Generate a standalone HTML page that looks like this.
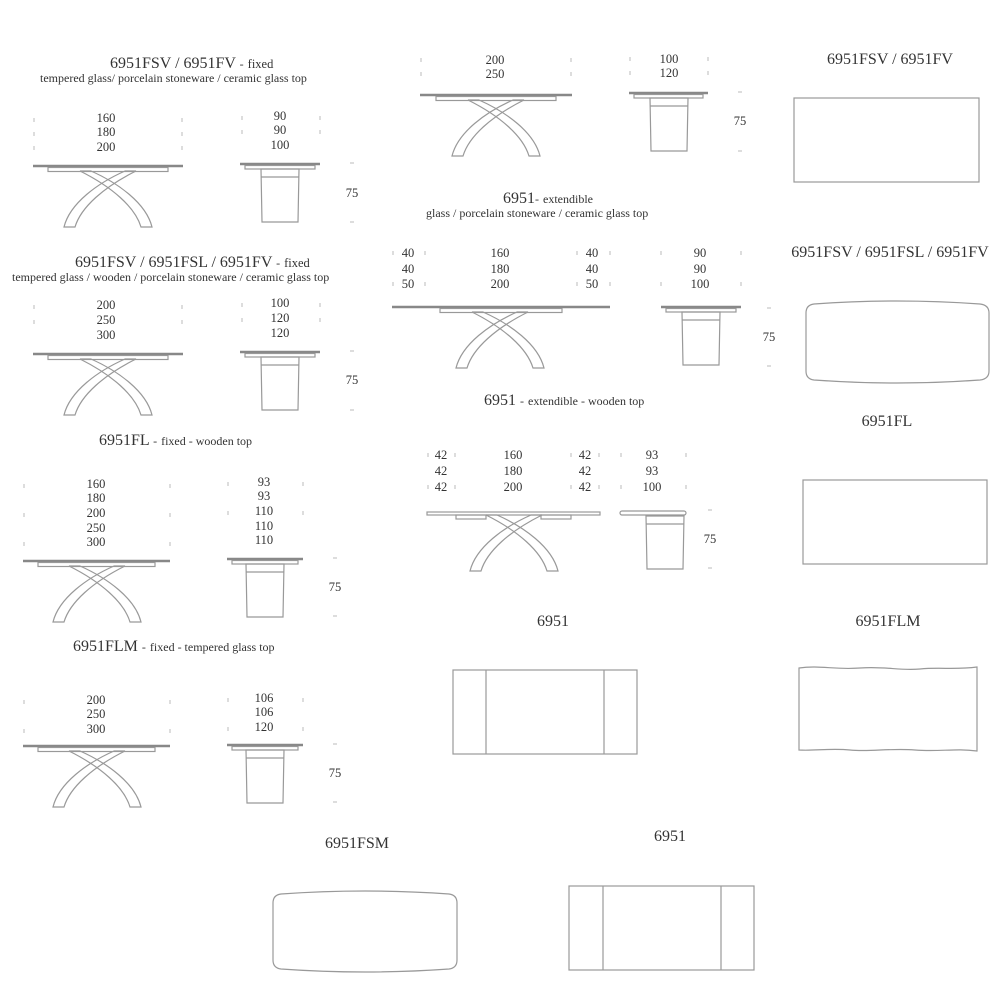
<!DOCTYPE html>
<html><head><meta charset="utf-8"><style>
html,body{margin:0;padding:0;background:#fff}
svg{display:block}
text{font-family:"Liberation Serif",serif;fill:#333}
.t{font-size:16px}
.s{font-size:12px}
.d{font-size:12.5px;text-anchor:middle}
.o{fill:none;stroke:#999;stroke-width:1.2}
.top{stroke:#888;stroke-width:2.5}
.tk{stroke:#bbb;stroke-width:1}
</style></head><body>
<svg width="1000" height="1000" viewBox="0 0 1000 1000" xmlns="http://www.w3.org/2000/svg">
<defs>
<g id="legs">
<path class="o" d="M -28 0 L -17 0 C 10 12 38 32 44 56 L 33 56 C 27 36 4 16 -28 0 Z"/>
<path class="o" d="M 28 0 L 17 0 C -10 12 -38 32 -44 56 L -33 56 C -27 36 -4 16 28 0 Z"/>
</g>
<g id="ped">
<path class="o" d="M 21 5 L 59 5 L 58 58 L 22 58 Z"/>
<line class="o" x1="21" y1="13" x2="59" y2="13"/>
</g>
</defs>

<!-- Section 1 -->
<text class="t" x="110" y="68">6951FSV / 6951FV <tspan class="s">-</tspan> <tspan style="font-size:12.5px">fixed</tspan></text>
<text class="s" x="40" y="82">tempered glass/ porcelain stoneware / ceramic glass top</text>
<text class="d" x="106" y="122">160</text><text class="d" x="106" y="136">180</text><text class="d" x="106" y="151">200</text>
<text class="d" x="280" y="120">90</text><text class="d" x="280" y="134">90</text><text class="d" x="280" y="149">100</text>
<line class="top" x1="33" y1="166" x2="183" y2="166"/>
<rect class="o" x="48" y="167.5" width="120" height="4"/>
<use href="#legs" x="108" y="171"/>
<line class="top" x1="240" y1="164" x2="320" y2="164"/>
<rect class="o" x="245" y="165.5" width="70" height="3.5"/>
<use href="#ped" x="240" y="164"/>
<text class="d" x="352" y="197">75</text>
<line class="tk" x1="350" y1="163" x2="354" y2="163"/><line class="tk" x1="350" y1="222" x2="354" y2="222"/>

<!-- Section 2 -->
<text class="t" x="75" y="267">6951FSV / 6951FSL / 6951FV <tspan class="s">-</tspan> <tspan style="font-size:12.5px">fixed</tspan></text>
<text class="s" x="12" y="281">tempered glass / wooden / porcelain stoneware / ceramic glass top</text>
<text class="d" x="106" y="309">200</text><text class="d" x="106" y="324">250</text><text class="d" x="106" y="339">300</text>
<text class="d" x="280" y="307">100</text><text class="d" x="280" y="322">120</text><text class="d" x="280" y="337">120</text>
<line class="top" x1="33" y1="354" x2="183" y2="354"/>
<rect class="o" x="48" y="355.5" width="120" height="4"/>
<use href="#legs" x="108" y="359"/>
<line class="top" x1="240" y1="352" x2="320" y2="352"/>
<rect class="o" x="245" y="353.5" width="70" height="3.5"/>
<use href="#ped" x="240" y="352"/>
<text class="d" x="352" y="384">75</text>
<line class="tk" x1="350" y1="351" x2="354" y2="351"/><line class="tk" x1="350" y1="410" x2="354" y2="410"/>

<!-- Section 3 -->
<text class="t" x="99" y="445">6951FL <tspan class="s">-</tspan> <tspan style="font-size:12px">fixed - wooden top</tspan></text>
<text class="d" x="96" y="488">160</text><text class="d" x="96" y="502">180</text><text class="d" x="96" y="517">200</text><text class="d" x="96" y="532">250</text><text class="d" x="96" y="546">300</text>
<text class="d" x="264" y="486">93</text><text class="d" x="264" y="500">93</text><text class="d" x="264" y="515">110</text><text class="d" x="264" y="530">110</text><text class="d" x="264" y="544">110</text>
<line class="top" x1="23" y1="561" x2="170" y2="561"/>
<rect class="o" x="38" y="562.5" width="117" height="4"/>
<use href="#legs" x="97" y="566"/>
<line class="top" x1="227" y1="559" x2="303" y2="559"/>
<rect class="o" x="232" y="560.5" width="66" height="3.5"/>
<use href="#ped" x="225" y="559"/>
<text class="d" x="335" y="591">75</text>
<line class="tk" x1="333" y1="558" x2="337" y2="558"/><line class="tk" x1="333" y1="616" x2="337" y2="616"/>

<!-- Section 4 -->
<text class="t" x="73" y="651">6951FLM <tspan class="s">-</tspan> <tspan style="font-size:12px">fixed - tempered glass top</tspan></text>
<text class="d" x="96" y="704">200</text><text class="d" x="96" y="718">250</text><text class="d" x="96" y="733">300</text>
<text class="d" x="264" y="702">106</text><text class="d" x="264" y="716">106</text><text class="d" x="264" y="731">120</text>
<line class="top" x1="23" y1="746" x2="170" y2="746"/>
<rect class="o" x="38" y="747.5" width="117" height="4"/>
<use href="#legs" x="97" y="751"/>
<line class="top" x1="227" y1="745" x2="303" y2="745"/>
<rect class="o" x="232" y="746.5" width="66" height="3.5"/>
<use href="#ped" x="225" y="745"/>
<text class="d" x="335" y="777">75</text>
<line class="tk" x1="333" y1="744" x2="337" y2="744"/><line class="tk" x1="333" y1="802" x2="337" y2="802"/>

<!-- Middle top -->
<text class="d" x="495" y="64">200</text><text class="d" x="495" y="78">250</text>
<text class="d" x="669" y="63">100</text><text class="d" x="669" y="77">120</text>
<line class="top" x1="420" y1="95" x2="572" y2="95"/>
<rect class="o" x="436" y="96.5" width="120" height="4"/>
<use href="#legs" x="496" y="100"/>
<line class="top" x1="629" y1="93" x2="708" y2="93"/>
<rect class="o" x="634" y="94.5" width="69" height="3.5"/>
<use href="#ped" x="629" y="93"/>
<text class="d" x="740" y="125">75</text>
<line class="tk" x1="738" y1="92" x2="742" y2="92"/><line class="tk" x1="738" y1="151" x2="742" y2="151"/>

<!-- Middle extendible -->
<text class="t" x="503" y="203">6951<tspan class="s">-</tspan> <tspan style="font-size:12px">extendible</tspan></text>
<text class="s" x="426" y="217">glass / porcelain stoneware / ceramic glass top</text>
<text class="d" x="408" y="257">40</text><text class="d" x="408" y="273">40</text><text class="d" x="408" y="288">50</text>
<text class="d" x="500" y="257">160</text><text class="d" x="500" y="273">180</text><text class="d" x="500" y="288">200</text>
<text class="d" x="592" y="257">40</text><text class="d" x="592" y="273">40</text><text class="d" x="592" y="288">50</text>
<text class="d" x="700" y="257">90</text><text class="d" x="700" y="273">90</text><text class="d" x="700" y="288">100</text>
<line class="top" x1="392" y1="307" x2="610" y2="307"/>
<rect class="o" x="440" y="308.5" width="122" height="4"/>
<use href="#legs" x="500" y="312"/>
<line class="top" x1="661" y1="307" x2="741" y2="307"/>
<rect class="o" x="666" y="308.5" width="70" height="3.5"/>
<use href="#ped" x="661" y="307"/>
<text class="d" x="769" y="341">75</text>
<line class="tk" x1="767" y1="308" x2="771" y2="308"/><line class="tk" x1="767" y1="366" x2="771" y2="366"/>

<!-- Middle extendible wooden -->
<text class="t" x="484" y="405">6951 <tspan class="s">-</tspan> <tspan style="font-size:12px">extendible - wooden top</tspan></text>
<text class="d" x="441" y="459">42</text><text class="d" x="441" y="475">42</text><text class="d" x="441" y="491">42</text>
<text class="d" x="513" y="459">160</text><text class="d" x="513" y="475">180</text><text class="d" x="513" y="491">200</text>
<text class="d" x="585" y="459">42</text><text class="d" x="585" y="475">42</text><text class="d" x="585" y="491">42</text>
<text class="d" x="652" y="459">93</text><text class="d" x="652" y="475">93</text><text class="d" x="652" y="491">100</text>
<rect class="o" x="427" y="512" width="173" height="3"/>
<rect class="o" x="456" y="515" width="30" height="4"/><rect class="o" x="541" y="515" width="30" height="4"/>
<use href="#legs" x="514" y="515"/>
<rect class="o" x="620" y="511" width="66" height="4" rx="2"/>
<use href="#ped" x="625" y="511"/>
<text class="d" x="710" y="543">75</text>
<line class="tk" x1="708" y1="510" x2="712" y2="510"/><line class="tk" x1="708" y1="568" x2="712" y2="568"/>

<!-- Middle plan 6951 -->
<text class="t" x="553" y="626" text-anchor="middle">6951</text>
<rect class="o" x="453" y="670" width="184" height="84"/>
<line class="o" x1="486" y1="670" x2="486" y2="754"/><line class="o" x1="604" y1="670" x2="604" y2="754"/>

<!-- Right column -->
<text class="t" x="890" y="64" text-anchor="middle">6951FSV / 6951FV</text>
<rect class="o" x="794" y="98" width="185" height="84"/>
<text class="t" x="890" y="257" text-anchor="middle">6951FSV / 6951FSL / 6951FV</text>
<path class="o" d="M 814 304 Q 897 298 980 304 Q 989 305 989 313 L 989 371 Q 989 379 980 380 Q 897 386 814 380 Q 806 379 806 371 L 806 313 Q 806 305 814 304 Z"/>
<text class="t" x="887" y="426" text-anchor="middle">6951FL</text>
<rect class="o" x="803" y="480" width="184" height="84"/>
<text class="t" x="888" y="626" text-anchor="middle">6951FLM</text>
<path class="o" d="M 799 668 C 820 665 835 670 860 668 C 885 666 900 671 920 669 C 940 667 955 670 977 667 L 977 751 C 955 748 940 752 915 750 C 890 748 870 752 850 750 C 830 748 815 751 799 750 Z"/>

<!-- Bottom -->
<text class="t" x="357" y="848" text-anchor="middle">6951FSM</text>
<path class="o" d="M 281 894 Q 365 888 449 894 Q 457 895 457 903 L 457 960 Q 457 968 449 969 Q 365 975 281 969 Q 273 968 273 960 L 273 903 Q 273 895 281 894 Z"/>
<text class="t" x="670" y="841" text-anchor="middle">6951</text>
<rect class="o" x="569" y="886" width="185" height="84"/>
<line class="o" x1="603" y1="886" x2="603" y2="970"/><line class="o" x1="721" y1="886" x2="721" y2="970"/>

<!-- small ticks -->
<g class="tk">
<line x1="34" y1="118" x2="34" y2="122"/><line x1="34" y1="132" x2="34" y2="136"/><line x1="34" y1="146" x2="34" y2="150"/>
<line x1="182" y1="118" x2="182" y2="122"/><line x1="182" y1="132" x2="182" y2="136"/><line x1="182" y1="146" x2="182" y2="150"/>
<line x1="242" y1="116" x2="242" y2="120"/><line x1="242" y1="130" x2="242" y2="134"/><line x1="320" y1="116" x2="320" y2="120"/><line x1="320" y1="130" x2="320" y2="134"/>
<line x1="34" y1="305" x2="34" y2="309"/><line x1="34" y1="320" x2="34" y2="324"/><line x1="182" y1="305" x2="182" y2="309"/><line x1="182" y1="320" x2="182" y2="324"/>
<line x1="242" y1="303" x2="242" y2="307"/><line x1="320" y1="303" x2="320" y2="307"/><line x1="242" y1="318" x2="242" y2="322"/><line x1="320" y1="318" x2="320" y2="322"/>
<line x1="24" y1="484" x2="24" y2="488"/><line x1="24" y1="513" x2="24" y2="517"/><line x1="24" y1="542" x2="24" y2="546"/><line x1="170" y1="484" x2="170" y2="488"/><line x1="170" y1="513" x2="170" y2="517"/><line x1="170" y1="542" x2="170" y2="546"/>
<line x1="228" y1="482" x2="228" y2="486"/><line x1="228" y1="511" x2="228" y2="515"/><line x1="303" y1="482" x2="303" y2="486"/><line x1="303" y1="511" x2="303" y2="515"/>
<line x1="24" y1="700" x2="24" y2="704"/><line x1="24" y1="729" x2="24" y2="733"/><line x1="170" y1="700" x2="170" y2="704"/><line x1="170" y1="729" x2="170" y2="733"/>
<line x1="228" y1="698" x2="228" y2="702"/><line x1="228" y1="727" x2="228" y2="731"/><line x1="303" y1="698" x2="303" y2="702"/><line x1="303" y1="727" x2="303" y2="731"/>
<line x1="421" y1="58" x2="421" y2="62"/><line x1="421" y1="72" x2="421" y2="76"/><line x1="571" y1="58" x2="571" y2="62"/><line x1="571" y1="72" x2="571" y2="76"/>
<line x1="630" y1="57" x2="630" y2="61"/><line x1="630" y1="71" x2="630" y2="75"/><line x1="708" y1="57" x2="708" y2="61"/><line x1="708" y1="71" x2="708" y2="75"/>
<line x1="393" y1="251" x2="393" y2="255"/><line x1="393" y1="282" x2="393" y2="286"/><line x1="425" y1="251" x2="425" y2="255"/><line x1="425" y1="282" x2="425" y2="286"/>
<line x1="577" y1="251" x2="577" y2="255"/><line x1="577" y1="282" x2="577" y2="286"/><line x1="610" y1="251" x2="610" y2="255"/><line x1="610" y1="282" x2="610" y2="286"/>
<line x1="661" y1="251" x2="661" y2="255"/><line x1="661" y1="282" x2="661" y2="286"/><line x1="741" y1="251" x2="741" y2="255"/><line x1="741" y1="282" x2="741" y2="286"/>
<line x1="428" y1="453" x2="428" y2="457"/><line x1="428" y1="485" x2="428" y2="489"/><line x1="455" y1="453" x2="455" y2="457"/><line x1="455" y1="485" x2="455" y2="489"/>
<line x1="571" y1="453" x2="571" y2="457"/><line x1="571" y1="485" x2="571" y2="489"/><line x1="599" y1="453" x2="599" y2="457"/><line x1="599" y1="485" x2="599" y2="489"/>
<line x1="621" y1="453" x2="621" y2="457"/><line x1="621" y1="485" x2="621" y2="489"/><line x1="686" y1="453" x2="686" y2="457"/><line x1="686" y1="485" x2="686" y2="489"/>
</g>
</svg>
</body></html>
